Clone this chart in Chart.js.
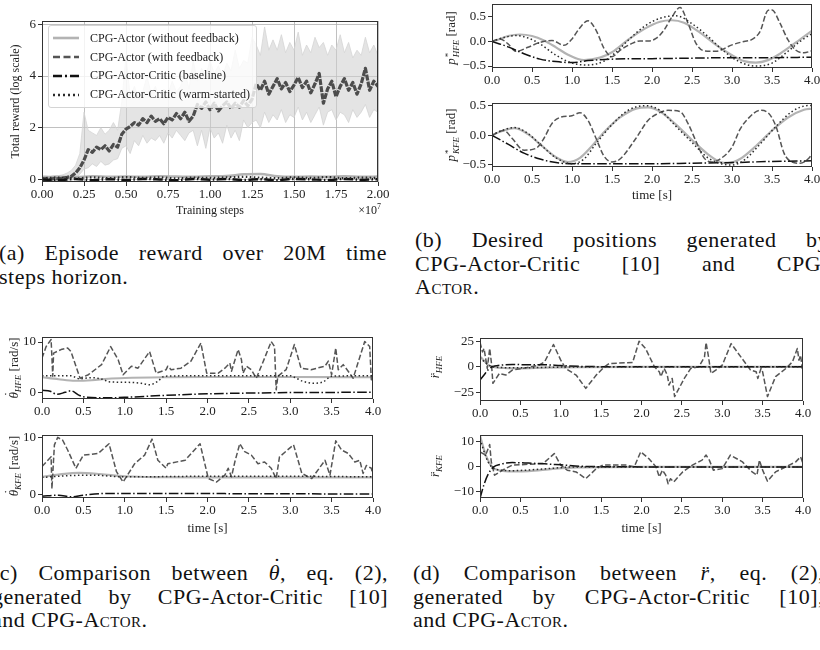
<!DOCTYPE html>
<html lang="en">
<head>
<meta charset="utf-8">
<title>CPG-Actor</title>
<script src="https://cdn.jsdelivr.net/npm/chart.js@4.4.1/dist/chart.umd.min.js"></script>
<style>
  html, body { margin: 0; padding: 0; background: #fff; }
  body { position: relative; width: 820px; height: 650px; overflow: hidden;
         font-family: "Liberation Serif", "Times New Roman", serif; color: #222; }
  canvas { position: absolute; }
  .rot { position: absolute; transform: translate(-50%, -50%) rotate(-90deg); white-space: nowrap; font-size: 13px; line-height: 1; }
  .rot sub { font-size: 9px; vertical-align: -3px; }
  .ss { display: inline-flex; flex-direction: column; vertical-align: middle; font-size: 9px; line-height: 8px; margin-left: 1px; }
  .dt { position: relative; display: inline-block; font-style: italic; }
  .dt::after { content: "\02D9"; position: absolute; left: 0.18em; top: -0.42em; font-style: normal; }
  .cap .dt { line-height: 1; }
  .cap .dt::after { top: -0.3em; left: 0.2em; }
  .cap { position: absolute; font-size: 22px; letter-spacing: 0.5px; line-height: 23.5px; color: #111; }
  .cap div { text-align: justify; text-align-last: justify; }
  .cap div.fim { text-align-last: left; }
  .sc { font-variant: small-caps; }
  #legenda { position: absolute; left: 48px; top: 25px; width: 209px; padding: 3px 0; background: rgba(255,255,255,0.8);
             border: 1px solid #d4d4d4; border-radius: 3px; font-size: 12px; box-sizing: border-box; }
  #legenda .item { display: flex; align-items: center; height: 18.8px; }
  #legenda svg { margin: 0 11px 0 4px; }
  #mult { position: absolute; right: 439px; top: 202px; font-size: 12px; }
</style>
</head>
<body>

<div class="cap" style="left:-1px; top:241px; width:388px">
  <div>(a) Episode reward over 20M time</div>
  <div class="fim">steps horizon.</div>
</div>
<div class="cap" style="left:415px; top:228px; width:414px">
  <div>(b) Desired positions generated by</div>
  <div>CPG-Actor-Critic [10] and CPG-</div>
  <div class="fim"><span class="sc">Actor</span>.</div>
</div>
<div class="cap" style="left:-8px; top:561px; width:396px">
  <div>(c) Comparison between <span class="dt">θ</span>, eq. (2),</div>
  <div>generated by CPG-Actor-Critic [10]</div>
  <div class="fim">and CPG-<span class="sc">Actor</span>.</div>
</div>
<div class="cap" style="left:413px; top:561px; width:411px">
  <div>(d) Comparison between <i>r̈</i>, eq. (2),</div>
  <div>generated by CPG-Actor-Critic [10],</div>
  <div class="fim">and CPG-<span class="sc">Actor</span>.</div>
</div>

<script>
const FONTE = "'Liberation Serif', 'Times New Roman', serif";
const TICK_FONT = { family: FONTE, size: 13 };

// ---------- (a) reward over training
const A_X_TICKS = [0, 0.25, 0.5, 0.75, 1, 1.25, 1.5, 1.75, 2];
const A_Y_TICKS = [0, 2, 4, 6];
const A_STEPS = [0,0.025,0.05,0.075,0.1,0.125,0.15,0.175,0.2,0.225,0.25,0.275,0.3,0.325,0.35,0.375,0.4,0.425,0.45,0.475,
  0.5,0.525,0.55,0.575,0.6,0.625,0.65,0.675,0.7,0.725,0.75,0.775,0.8,0.825,0.85,0.875,0.9,0.925,0.95,0.975,
  1,1.025,1.05,1.075,1.1,1.125,1.15,1.175,1.2,1.225,1.25,1.275,1.3,1.325,1.35,1.375,1.4,1.425,1.45,1.475,
  1.5,1.525,1.55,1.575,1.6,1.625,1.65,1.675,1.7,1.725,1.75,1.775,1.8,1.825,1.85,1.875,1.9,1.925,1.95,1.975,2];
const A_FB_MEAN = [0.02,0.03,0.00,0.04,0.02,0.05,0.08,0.12,0.25,0.45,
  0.75,1.15,1.05,1.25,1.15,1.30,1.10,1.35,1.25,1.75,
  1.95,2.05,2.20,2.10,2.35,2.20,2.45,2.25,2.35,2.15,
  2.40,2.30,2.55,2.35,2.60,2.25,2.45,2.90,2.75,3.00,
  2.70,2.95,2.65,2.85,3.00,2.75,2.95,2.80,3.05,2.85,
  3.10,3.70,3.45,3.80,3.30,3.60,3.90,3.50,3.75,3.40,
  3.65,3.95,3.55,3.80,3.35,3.70,4.10,2.95,3.50,3.80,
  3.20,3.60,3.90,3.45,3.75,3.30,3.70,4.30,3.45,3.80,
  3.60];
const A_BAND_HI = [0.15,0.15,0.12,0.15,0.15,0.18,0.25,0.35,0.55,1.00,
  2.60,1.90,1.80,1.70,2.00,1.75,1.90,2.20,1.90,3.00,
  4.80,3.20,3.60,3.10,3.40,4.00,3.30,3.60,3.10,3.50,
  3.30,3.80,3.40,3.60,4.20,3.50,4.60,3.80,4.30,4.00,
  4.60,4.10,4.40,4.00,4.50,4.20,5.00,4.30,4.60,4.50,
  5.50,5.20,4.80,5.90,5.00,5.40,5.00,5.60,4.90,5.30,
  5.00,5.70,4.80,5.20,4.90,5.50,5.10,5.30,4.80,5.20,
  5.00,5.60,4.90,5.30,4.70,5.00,4.80,5.50,4.90,5.20,
  4.80];
const A_BAND_LO = [-0.05,-0.05,-0.05,-0.05,-0.05,-0.05,-0.05,-0.05,0.05,0.20,
  0.40,0.45,0.60,0.50,0.70,0.55,0.60,0.75,0.80,1.20,
  1.30,1.00,1.50,1.30,1.70,1.40,1.60,1.50,1.70,1.40,
  1.80,1.60,1.90,1.70,1.50,1.80,1.90,1.30,1.90,1.20,
  2.00,1.60,1.80,1.40,2.10,1.60,1.90,1.50,2.30,2.00,
  2.20,2.30,2.00,2.60,2.20,2.50,2.30,2.70,2.20,2.50,
  2.40,2.80,2.30,2.60,2.20,2.50,2.80,2.10,2.60,2.70,
  2.30,2.60,2.50,2.20,2.70,2.40,2.60,2.90,2.40,2.70,
  2.60];
const A_T21 = [0,0.1,0.2,0.3,0.4,0.5,0.6,0.7,0.8,0.9,1,1.1,1.2,1.3,1.4,1.5,1.6,1.7,1.8,1.9,2];
const A_NOFB = [0.08,0.1,0.09,0.12,0.1,0.11,0.1,0.12,0.11,0.1,0.12,0.13,0.2,0.21,0.12,0.1,0.11,0.1,0.12,0.1,0.11];
const A_BASE = [0.0,-0.02,0.02,-0.03,0.01,-0.02,0.02,0.0,-0.03,0.02,-0.01,0.02,-0.02,0.01,-0.03,0.02,0.0,-0.02,0.02,-0.01,0.01];
const A_WARM = [0.05,0.07,0.04,0.08,0.05,0.09,0.06,0.08,0.04,0.07,0.06,0.08,0.1,0.07,0.05,0.08,0.06,0.09,0.05,0.07,0.06];

// ---------- shared time ticks
const T_TICKS = [0, 0.5, 1, 1.5, 2, 2.5, 3, 3.5, 4];

// ---------- (b) desired positions
const B_Y_TICKS = [-0.5, 0, 0.5];
const B1_NOFB_T = [0,0.1,0.2,0.35,0.5,0.65,0.8,0.95,1.15,1.35,1.5,1.7,1.9,2.1,2.25,2.4,2.6,2.8,3.0,3.15,3.3,3.45,3.6,3.8,4.0];
const B1_NOFB   = [0,0.05,0.11,0.14,0.11,0.02,-0.12,-0.27,-0.38,-0.33,-0.22,0.03,0.25,0.40,0.43,0.38,0.18,-0.07,-0.28,-0.40,-0.43,-0.38,-0.25,-0.02,0.22];
const B1_WARM_T = [0,0.15,0.3,0.45,0.6,0.8,1.0,1.2,1.4,1.55,1.7,1.9,2.1,2.3,2.5,2.7,2.9,3.1,3.3,3.5,3.7,3.85,4.0];
const B1_WARM   = [0,0.08,0.12,0.07,-0.05,-0.28,-0.44,-0.48,-0.40,-0.22,0.02,0.30,0.47,0.52,0.36,0.10,-0.20,-0.42,-0.50,-0.44,-0.20,0.0,0.16];
const B1_BASE_T = [0,0.2,0.4,0.6,0.8,1.0,1.2,1.5,2.0,2.5,3.0,3.5,4.0];
const B1_BASE   = [0,-0.11,-0.25,-0.36,-0.41,-0.43,-0.39,-0.36,-0.35,-0.34,-0.33,-0.33,-0.32];
const B1_FB_T = [0,0.1,0.2,0.3,0.45,0.6,0.75,0.9,1.0,1.1,1.2,1.3,1.4,1.5,1.6,1.75,1.85,1.95,2.05,2.15,
  2.25,2.35,2.45,2.55,2.65,2.8,3.0,3.15,3.25,3.35,3.45,3.5,3.6,3.7,3.8,3.9,4.0];
const B1_FB   = [0,0.05,-0.05,-0.2,-0.12,-0.02,0.02,-0.08,0.05,0.28,0.42,0.23,-0.14,-0.31,-0.18,-0.04,0.01,0.01,0.06,0.23,
  0.50,0.69,0.37,-0.04,-0.19,-0.2,-0.07,0.0,0.04,0.2,0.63,0.64,0.37,0.03,-0.18,-0.23,-0.19];

const B2_NOFB_T = [0,0.1,0.28,0.45,0.6,0.8,0.95,1.1,1.25,1.4,1.6,1.8,1.95,2.1,2.3,2.5,2.7,2.85,2.95,3.1,3.3,3.5,3.7,3.9,4.0];
const B2_NOFB   = [0,0.06,0.12,0.02,-0.15,-0.37,-0.45,-0.38,-0.18,0.05,0.3,0.45,0.47,0.40,0.18,-0.08,-0.32,-0.45,-0.47,-0.40,-0.18,0.08,0.30,0.43,0.45];
const B2_WARM_T = [0,0.1,0.28,0.45,0.6,0.8,1.0,1.15,1.3,1.5,1.7,1.92,2.1,2.3,2.5,2.7,2.9,3.0,3.15,3.35,3.55,3.75,3.95,4.0];
const B2_WARM   = [0,0.07,0.13,0.03,-0.15,-0.38,-0.48,-0.4,-0.14,0.18,0.42,0.50,0.42,0.15,-0.12,-0.38,-0.49,-0.50,-0.42,-0.15,0.15,0.40,0.50,0.50];
const B2_BASE_T = [0,0.2,0.4,0.6,0.8,1.0,1.5,2.0,2.5,3.0,3.5,4.0];
const B2_BASE   = [0,-0.15,-0.3,-0.4,-0.46,-0.48,-0.48,-0.48,-0.47,-0.46,-0.44,-0.43];
const B2_FB_T = [0,0.15,0.25,0.4,0.55,0.65,0.75,0.85,1.0,1.1,1.2,1.3,1.4,1.5,1.6,1.8,1.95,2.05,2.2,2.35,
  2.45,2.55,2.65,2.75,2.85,3.0,3.1,3.2,3.35,3.45,3.55,3.65,3.75,3.85,3.95,4.0];
const B2_FB   = [0,0.08,-0.05,-0.25,-0.22,-0.05,0.2,0.3,0.33,0.38,0.25,-0.05,-0.35,-0.45,-0.4,-0.05,0.25,0.35,0.42,0.40,
  0.2,-0.1,-0.38,-0.45,-0.4,-0.2,0.1,0.28,0.42,0.38,0.15,-0.3,-0.45,-0.47,-0.4,-0.32];

// ---------- (c) joint velocity
const C_Y_TICKS = [0, 10];
const C1_NOFB_T = [0,0.2,0.4,0.6,0.8,1.0,1.5,2.0,3.0,4.0];
const C1_NOFB   = [3.0,2.6,2.3,2.4,2.7,2.85,3.0,3.05,3.05,3.0];
const C1_WARM_T = [0,0.35,0.45,0.6,0.75,0.8,1.0,1.2,1.3,1.4,1.48,2.0,3.0,3.05,3.15,3.3,3.4,3.5,4.0];
const C1_WARM   = [3.3,3.3,2.7,2.9,2.5,2.1,2.0,1.8,1.5,2.2,3.2,3.3,3.3,3.0,2.2,1.8,2.1,3.2,3.3];
const C1_BASE_T = [0,0.1,0.18,0.28,0.35,0.45,0.5,0.75,1.0,1.5,2.0,2.5,3.0,4.0];
const C1_BASE   = [0.4,0.2,-0.4,0.0,0.3,-0.6,-0.9,-1.1,-1.0,-0.6,-0.3,-0.15,-0.05,0.0];
const C1_FB_T = [0,0.05,0.11,0.13,0.14,0.23,0.31,0.35,0.46,0.56,0.72,0.83,0.92,0.98,1.08,1.16,1.3,1.38,1.5,1.52,
  1.56,1.68,1.8,1.92,1.99,2.13,2.21,2.27,2.29,2.37,2.41,2.43,2.47,2.53,2.59,2.69,2.77,2.81,2.83,2.85,
  2.95,3.05,3.13,3.25,3.42,3.46,3.5,3.55,3.58,3.64,3.7,3.76,3.9,3.96,3.98,4.0];
const C1_FB   = [6.8,9.1,10.5,3.2,7.8,8.5,8.8,8.1,2.8,3.5,5.5,9.1,6.5,3.5,5.2,4.8,8.1,3.8,4.5,5.2,
  4.5,4.8,6.2,9.8,3.8,3.8,4.8,5.8,4.2,8.5,6.5,3.8,5.2,4.5,2.8,6.8,10.1,9.1,0.5,3.2,
  4.5,9.5,4.8,4.5,5.2,6.2,3.5,8.8,4.5,5.5,4.2,2.8,10.1,9.1,2.5,3.8];

const C2_NOFB_T = [0,0.2,0.45,0.7,1.0,1.5,2.0,3.0,4.0];
const C2_NOFB   = [3.1,3.5,3.8,3.6,3.2,3.05,3.0,3.0,3.0];
const C2_WARM_T = [0,0.3,0.6,1.0,2.0,3.0,4.0];
const C2_WARM   = [3.0,3.3,3.4,3.1,3.2,3.2,3.1];
const C2_BASE_T = [0,0.2,0.35,0.5,0.8,1.5,2.5,4.0];
const C2_BASE   = [-0.3,-0.1,-0.4,-0.1,0.2,0.2,0.15,0.1];
const C2_FB_T = [0,0.11,0.12,0.15,0.19,0.25,0.31,0.41,0.5,0.68,0.81,0.9,0.98,1.12,1.24,1.33,1.4,1.5,1.52,1.73,
  1.91,2.01,2.11,2.21,2.25,2.29,2.33,2.39,2.45,2.53,2.61,2.69,2.77,2.83,2.87,3.04,3.14,3.26,3.42,3.48,
  3.55,3.62,3.7,3.78,3.84,3.88,3.92,3.98,4.0];
const C2_FB   = [4.9,6.6,1.0,8.7,10.0,9.5,7.8,4.6,6.9,7.2,8.9,4.0,2.2,5.4,6.9,9.7,6.0,4.6,5.4,6.0,
  8.9,2.8,2.2,3.4,4.6,3.1,5.7,8.9,7.5,6.9,5.4,5.7,4.6,2.8,6.6,8.7,3.7,2.8,6.0,3.4,
  9.4,7.8,7.2,5.7,6.0,3.7,5.1,4.6,3.4];

// ---------- (d) oscillator second derivative
const D1_Y_TICKS = [-25, 0, 25];
const D2_Y_TICKS = [-10, 0, 10];
const D1_NOFB_T = [0,0.05,0.1,0.15,0.3,0.5,0.8,1.2,2.0,4.0];
const D1_NOFB   = [10,6,2,0,-1.2,-1.5,-0.8,-0.3,0,0];
const D1_WARM_T = [0,0.1,0.2,0.5,1.0,2.0,4.0];
const D1_WARM   = [9,2,-0.5,-1,-0.3,0,0];
const D1_BASE_T = [0,0.05,0.1,0.15,0.25,0.4,0.6,0.8,1.0,1.3,2.0,4.0];
const D1_BASE   = [-13,-8,-3,0,1.5,2.3,2.0,2.0,1.2,0.3,0,0];
const D1_FB_T = [0,0.03,0.05,0.09,0.12,0.14,0.16,0.24,0.32,0.4,0.53,0.73,0.8,0.91,1.0,1.06,1.19,1.31,1.44,1.54,
  1.6,1.89,1.97,2.05,2.16,2.22,2.24,2.28,2.32,2.34,2.38,2.41,2.53,2.61,2.71,2.78,2.8,2.83,2.86,2.92,
  3.0,3.11,3.23,3.35,3.42,3.44,3.48,3.5,3.56,3.66,3.79,3.87,3.93,3.95,3.97,3.99,4.0];
const D1_FB   = [24,14.6,17.9,-1.6,17.9,4.9,-16.2,-6.5,-8.1,-3.2,-1.6,1.6,4.9,21.8,6.5,-1.6,-8.1,-21.1,-8.1,0,
  3.2,4.2,25,17.9,0,-4.9,-9.7,-1.6,-8.1,-17.9,-11.4,-29.2,-11.4,-1.6,0,9.7,23.7,9.7,-6.5,-3.2,
  1.6,22.7,9.7,-3.2,-4.9,-11.4,-1.6,-4.9,-29.2,-9.7,-1.6,4.9,17.9,6.5,11.4,-1.6,1.6];

const D2_NOFB_T = [0,0.03,0.08,0.15,0.25,0.4,0.6,0.9,1.2,2.0,4.0];
const D2_NOFB   = [12.5,9,4,0,-1.5,-1.8,-1.7,-0.8,-0.2,0,0];
const D2_WARM_T = [0,0.1,0.2,0.4,0.8,1.2,4.0];
const D2_WARM   = [11,2,-1,-1.5,-0.8,0,0];
const D2_BASE_T = [0,0.05,0.1,0.17,0.25,0.4,0.6,0.8,1.0,1.3,2.0,4.0];
const D2_BASE   = [-12.5,-7,-3,0,1.0,1.7,1.5,1.2,0.8,0.2,0,0];
const D2_FB_T = [0,0.07,0.12,0.14,0.18,0.28,0.4,0.78,0.92,1.0,1.08,1.19,1.31,1.44,1.52,1.81,1.91,1.99,2.09,2.18,
  2.22,2.26,2.3,2.33,2.36,2.4,2.51,2.63,2.75,2.8,2.84,2.89,3.0,3.1,3.25,3.37,3.43,3.46,3.5,3.56,
  3.66,3.83,3.91,3.97,4.0];
const D2_FB   = [6,4.7,8.9,2,-3.3,-1.3,0.7,1.3,5.3,0.7,-1.3,-2,-4.7,-0.7,0.7,0.7,0,6,3.3,0,
  -4,-1.3,-3.3,-6.7,-4.7,-6,-2,0.7,2.7,4.7,2.7,-1.3,-0.7,4.7,2,-2,-3.3,2.7,-1.3,-5.7,
  -2,0.7,2,4,1.3];

const LEGENDA = [
  ["semFb", "CPG-Actor (without feedback)"],
  ["comFb", "CPG-Actor (with feedback)"],
  ["base",  "CPG-Actor-Critic (baseline)"],
  ["warm",  "CPG-Actor-Critic (warm-started)"],
];

const ESTILOS = {
  semFb: { borderColor: "#b3b3b3", borderWidth: 2.2, borderDash: [], order: 4, cubicInterpolationMode: "monotone" },
  comFb: { borderColor: "#555555", borderWidth: 1.5, borderDash: [5.5, 2.4], order: 3 },
  base:  { borderColor: "#111111", borderWidth: 1.5, borderDash: [9.6, 2.4, 1.5, 2.4], order: 2, cubicInterpolationMode: "monotone" },
  warm:  { borderColor: "#2b2b2b", borderWidth: 1.5, borderDash: [1.5, 2.5], order: 1, cubicInterpolationMode: "monotone" },
};
const LEGENDA_DASH = { semFb: "", comFb: "7 3.5", base: "9 3 2 3", warm: "2 3" };

function pts(xs, ys) {
  return xs.map((x, i) => ({ x, y: ys[i] }));
}

function linha(xs, ys, estilo, extra = {}) {
  return { data: pts(xs, ys), ...ESTILOS[estilo], pointRadius: 0, borderJoinStyle: "round", fill: false, ...extra };
}

function rotulo(v, dec) {
  return (v < 0 ? "\u2212" : "") + Math.abs(v).toFixed(dec);
}

const moldura = {
  id: "moldura",
  afterDatasetsDraw(chart) {
    const { ctx, chartArea: a } = chart;
    ctx.save();
    ctx.strokeStyle = "#333";
    ctx.lineWidth = 1;
    ctx.strokeRect(Math.round(a.left) + 0.5, Math.round(a.top) + 0.5,
                   Math.round(a.right - a.left) - 1, Math.round(a.bottom - a.top) - 1);
    ctx.restore();
  }
};

function eixo(dir, c, tamanho) {
  return {
    type: "linear",
    position: dir === "x" ? "bottom" : "left",
    min: c.min, max: c.max,
    afterBuildTicks: s => { s.ticks = c.ticks.map(v => ({ value: v })); },
    afterFit: s => { if (dir === "x") s.height = tamanho; else s.width = tamanho; },
    ticks: { callback: v => rotulo(v, c.dec), font: TICK_FONT, color: "#222",
             padding: dir === "x" ? 1 : 2, maxRotation: 0, autoSkip: false },
    grid: { drawOnChartArea: !!c.grade, color: "#b0b0b0", lineWidth: 0.8,
            tickColor: "#333", tickLength: 4, tickWidth: 1 },
    border: { display: false },
    title: c.titulo
      ? { display: true, text: c.titulo, color: "#222", font: { family: FONTE, size: c.tituloTam || 13 }, padding: c.tituloPad }
      : { display: false },
  };
}

function painel(frame, cfg) {
  const [l, t, r, b] = frame;
  const yw = cfg.yw, xh = cfg.xh, pt = 12, pr = 18;
  const w = r - l + yw + pr, h = b - t + pt + xh;
  const cv = document.createElement("canvas");
  cv.width = w; cv.height = h;
  Object.assign(cv.style, { left: (l - yw) + "px", top: (t - pt) + "px", width: w + "px", height: h + "px" });
  document.body.appendChild(cv);
  return new Chart(cv, {
    type: "line",
    data: { datasets: cfg.datasets },
    options: {
      responsive: false,
      animation: false,
      events: [],
      layout: { padding: { left: 0, top: pt, right: pr, bottom: 0 } },
      plugins: { legend: { display: false }, tooltip: { enabled: false } },
      scales: { x: eixo("x", cfg.x, xh), y: eixo("y", cfg.y, yw) },
    },
    plugins: [moldura],
  });
}

function tempo(extra = {}) {
  return { min: 0, max: 4, ticks: T_TICKS, dec: 1, ...extra };
}

// (a)
painel([42, 21, 378, 182], {
  yw: 42, xh: 38,
  x: { min: 0, max: 2, ticks: A_X_TICKS, dec: 2, grade: true,
       titulo: "Training steps", tituloTam: 12, tituloPad: { top: 0, bottom: 2 } },
  y: { min: -0.1, max: 6.13, ticks: A_Y_TICKS, dec: 0, grade: true,
       titulo: "Total reward (log scale)", tituloTam: 12, tituloPad: { top: 9, bottom: 0 } },
  datasets: [
    { data: pts(A_STEPS, A_BAND_HI), borderColor: "#d6d6d6", borderWidth: 0.8, backgroundColor: "rgba(205,205,205,0.55)",
      fill: "+1", pointRadius: 0, order: 9 },
    { data: pts(A_STEPS, A_BAND_LO), borderColor: "#d6d6d6", borderWidth: 0.8, fill: false, pointRadius: 0, order: 9 },
    linha(A_T21, A_NOFB, "semFb", { borderWidth: 2.5, order: 5 }),
    linha(A_STEPS, A_FB_MEAN, "comFb", { borderWidth: 3.2, borderColor: "#4d4d4d", borderDash: [6, 1.2], order: 3 }),
    linha(A_T21, A_BASE, "base", { borderWidth: 2.5, order: 2 }),
    linha(A_T21, A_WARM, "warm", { borderWidth: 2.2, order: 1 }),
  ],
});

// (b)
painel([492, 4, 812, 68], {
  yw: 44, xh: 22,
  x: tempo(), y: { min: -0.54, max: 0.76, ticks: B_Y_TICKS, dec: 1 },
  datasets: [
    linha(B1_NOFB_T, B1_NOFB, "semFb"),
    linha(B1_FB_T, B1_FB, "comFb", { cubicInterpolationMode: "monotone" }),
    linha(B1_BASE_T, B1_BASE, "base"),
    linha(B1_WARM_T, B1_WARM, "warm"),
  ],
});
painel([492, 103, 812, 167], {
  yw: 44, xh: 36,
  x: tempo({ titulo: "time [s]", tituloPad: { top: 0, bottom: 0 } }),
  y: { min: -0.534, max: 0.544, ticks: B_Y_TICKS, dec: 1 },
  datasets: [
    linha(B2_NOFB_T, B2_NOFB, "semFb"),
    linha(B2_FB_T, B2_FB, "comFb", { cubicInterpolationMode: "monotone" }),
    linha(B2_BASE_T, B2_BASE, "base"),
    linha(B2_WARM_T, B2_WARM, "warm"),
  ],
});

// (c)
painel([42, 337, 373, 399], {
  yw: 42, xh: 22,
  x: tempo(), y: { min: -1.33, max: 11.0, ticks: C_Y_TICKS, dec: 0 },
  datasets: [
    linha(C1_NOFB_T, C1_NOFB, "semFb"),
    linha(C1_FB_T, C1_FB, "comFb"),
    linha(C1_BASE_T, C1_BASE, "base"),
    linha(C1_WARM_T, C1_WARM, "warm"),
  ],
});
painel([42, 435, 373, 498], {
  yw: 42, xh: 38,
  x: tempo({ titulo: "time [s]", tituloPad: { top: 0, bottom: 0 } }),
  y: { min: -0.6, max: 10.42, ticks: C_Y_TICKS, dec: 0 },
  datasets: [
    linha(C2_NOFB_T, C2_NOFB, "semFb"),
    linha(C2_FB_T, C2_FB, "comFb"),
    linha(C2_BASE_T, C2_BASE, "base"),
    linha(C2_WARM_T, C2_WARM, "warm"),
  ],
});

// (d)
painel([480, 338, 803, 401], {
  yw: 44, xh: 22,
  x: tempo(), y: { min: -33.5, max: 28.2, ticks: D1_Y_TICKS, dec: 0 },
  datasets: [
    linha(D1_NOFB_T, D1_NOFB, "semFb"),
    linha(D1_FB_T, D1_FB, "comFb"),
    linha(D1_BASE_T, D1_BASE, "base"),
    linha(D1_WARM_T, D1_WARM, "warm"),
  ],
});
painel([480, 435, 803, 498], {
  yw: 44, xh: 38,
  x: tempo({ titulo: "time [s]", tituloPad: { top: 0, bottom: 0 } }),
  y: { min: -12.4, max: 12.7, ticks: D2_Y_TICKS, dec: 0 },
  datasets: [
    linha(D2_NOFB_T, D2_NOFB, "semFb"),
    linha(D2_FB_T, D2_FB, "comFb"),
    linha(D2_BASE_T, D2_BASE, "base"),
    linha(D2_WARM_T, D2_WARM, "warm"),
  ],
});

// overlay texts: legend, offset text, math axis labels
const leg = document.createElement("div");
leg.id = "legenda";
LEGENDA.forEach(([estilo, texto]) => {
  const s = ESTILOS[estilo];
  const item = document.createElement("div");
  item.className = "item";
  item.innerHTML = `<svg width="26" height="6"><line x1="0" y1="3" x2="26" y2="3" stroke="${s.borderColor}"
    stroke-width="2.6" stroke-dasharray="${LEGENDA_DASH[estilo]}"/></svg><span>${texto}</span>`;
  leg.appendChild(item);
});
document.body.appendChild(leg);

const extras = [
  ["mult", null, null, "\u00d710<sup style=\"font-size:8px\">7</sup>"],
  [null, 452, 38, "<i>p</i><span class=\"ss\"><span>*</span><i>HFE</i></span> [rad]"],
  [null, 452, 135, "<i>p</i><span class=\"ss\"><span>*</span><i>KFE</i></span> [rad]"],
  [null, 15, 368, "<span class=\"dt\">θ</span><sub><i>HFE</i></sub> [rad/s]"],
  [null, 15, 466, "<span class=\"dt\">θ</span><sub><i>KFE</i></sub> [rad/s]"],
  [null, 436, 367, "<i>r̈</i><sub><i>HFE</i></sub>"],
  [null, 436, 466, "<i>r̈</i><sub><i>KFE</i></sub>"],
];
extras.forEach(([id, x, y, html]) => {
  const d = document.createElement("div");
  if (id) d.id = id;
  else { d.className = "rot"; d.style.left = x + "px"; d.style.top = y + "px"; }
  d.innerHTML = html;
  document.body.appendChild(d);
});
</script>
</body>
</html>
